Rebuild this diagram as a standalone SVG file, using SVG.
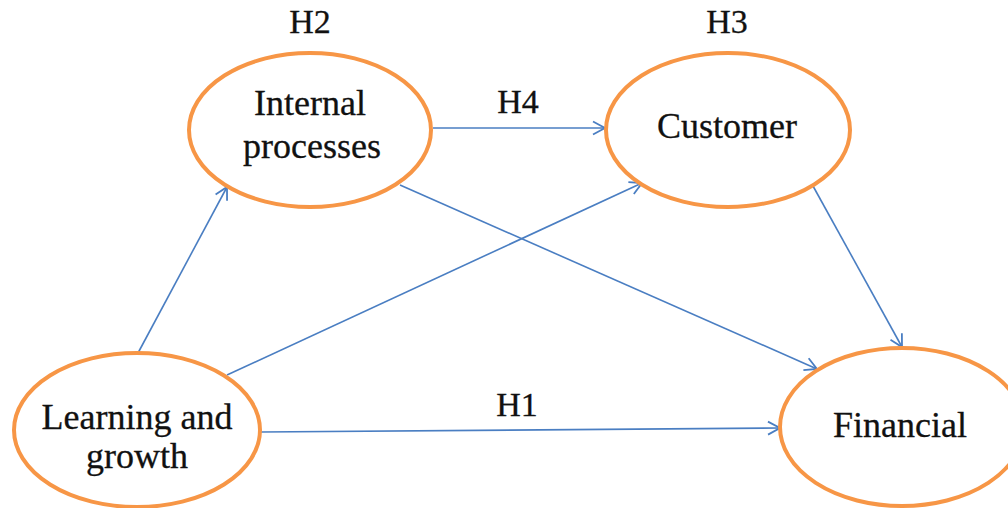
<svg xmlns="http://www.w3.org/2000/svg" width="1008" height="508" viewBox="0 0 1008 508">
  <style>
    .node ellipse { fill: #ffffff; stroke: #F79646; stroke-width: 4; }
    .node text { font-family: "Liberation Serif", "Times New Roman", serif; font-size: 36px; fill: #111111; stroke: #111111; stroke-width: 0.3; text-anchor: middle; }
    .label { font-family: "Liberation Serif", "Times New Roman", serif; font-size: 34px; fill: #111111; stroke: #111111; stroke-width: 0.3; text-anchor: middle; }
    .edge { fill: none; stroke: #4A7EC2; stroke-width: 1.6; marker-end: url(#arrow); }
  </style>
  <defs>
    <marker id="arrow" markerUnits="userSpaceOnUse" markerWidth="16" markerHeight="16" viewBox="-14 -8 16 16" refX="0" refY="0" orient="auto">
      <path d="M -12 -6.5 L 0 0 L -12 6.5" fill="none" stroke="#4A7EC2" stroke-width="1.8"/>
    </marker>
  </defs>
  <rect width="1008" height="508" fill="#ffffff"/>

  <!-- connectors -->
  <g id="connectors">
    <line class="edge" x1="138" y1="353" x2="227" y2="187"/>
    <line class="edge" x1="227" y1="375" x2="642" y2="183"/>
    <line class="edge" x1="261" y1="432" x2="780" y2="428"/>
    <line class="edge" x1="433" y1="128" x2="605" y2="128"/>
    <line class="edge" x1="400" y1="185" x2="817" y2="369"/>
    <line class="edge" x1="813" y1="186" x2="902" y2="347"/>
  </g>

  <!-- hypothesis labels -->
  <g id="labels">
    <text class="label" x="310" y="33">H2</text>
    <text class="label" x="727" y="33">H3</text>
    <text class="label" x="518" y="113">H4</text>
    <text class="label" x="517" y="416">H1</text>
  </g>

  <g id="internal-processes" class="node">
    <ellipse cx="310" cy="130" rx="121" ry="77"/>
    <text x="310" y="115">Internal</text>
    <text x="312" y="158">processes</text>
  </g>

  <g id="customer" class="node">
    <ellipse cx="728" cy="130" rx="122" ry="77"/>
    <text x="727" y="138">Customer</text>
  </g>

  <g id="learning-and-growth" class="node">
    <ellipse cx="137" cy="430" rx="123" ry="77"/>
    <text x="137" y="429">Learning and</text>
    <text x="137" y="468">growth</text>
  </g>

  <g id="financial" class="node">
    <ellipse cx="902" cy="427" rx="122" ry="79"/>
    <text x="900" y="437">Financial</text>
  </g>
</svg>
